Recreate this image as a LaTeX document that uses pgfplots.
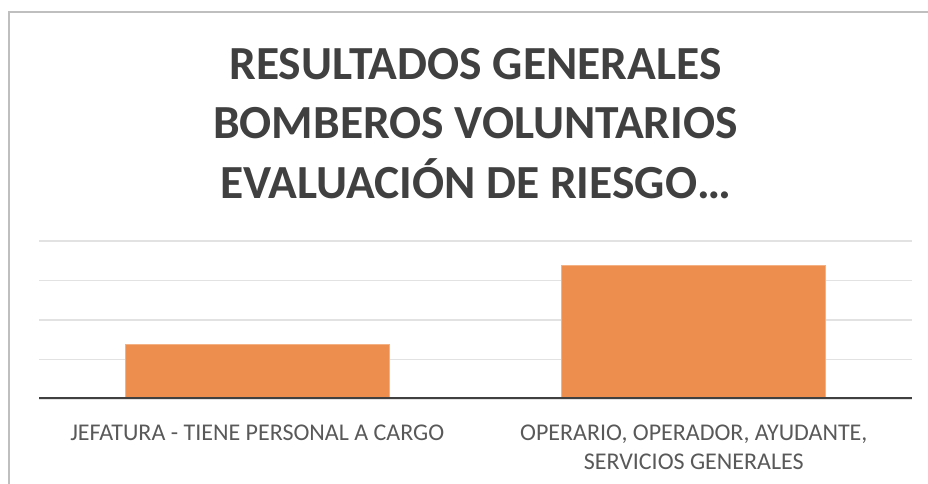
\documentclass[border=0pt]{standalone}
\usepackage{fontspec}
\setmainfont{Carlito}
\usepackage{pgfplots}
\pgfplotsset{compat=1.18}
\definecolor{barfill}{RGB}{237,141,78}
\definecolor{baredge}{RGB}{244,177,131}
\definecolor{gridc}{RGB}{226,226,226}
\definecolor{axisc}{RGB}{64,64,64}
\definecolor{titlec}{RGB}{64,64,64}
\definecolor{labelc}{RGB}{89,89,89}
\definecolor{framec}{RGB}{191,191,191}
\begin{document}
\begin{tikzpicture}
\path[use as bounding box] (-39pt,-85pt) rectangle (889pt,399pt);
\draw[framec, line width=1.5pt] (-30pt,-86pt) -- (-30pt,387pt) -- (890pt,387pt);
\node[anchor=north, align=center, font=\bfseries\fontsize{47.5}{59.5}\selectfont, text=titlec, inner sep=0pt] at (436.5pt,351pt) {RESULTADOS GENERALES\\BOMBEROS VOLUNTARIOS\\EVALUACIÓN DE RIESGO…};
\begin{axis}[
  at={(0pt,0pt)}, anchor=south west,
  scale only axis, width=873pt, height=158pt,
  xmin=-0.5, xmax=1.5, ymin=0, ymax=4,
  xtick={0,1},
  xticklabels={JEFATURA - TIENE PERSONAL A CARGO, {OPERARIO, OPERADOR, AYUDANTE,\\SERVICIOS GENERALES}},
  ytick={0,1,2,3,4}, yticklabels={},
  ymajorgrids, major grid style={gridc, line width=1.5pt},
  axis line style={draw=none}, tick style={draw=none},
  xticklabel style={font=\fontsize{24}{29}\selectfont, text=labelc, align=center, anchor=north, inner sep=0pt, yshift=-25.5pt},
]
\addplot[ybar, bar width=0.605, fill=barfill, draw=baredge, line width=1pt] coordinates {(0,1.37) (1,3.39)};
\draw[axisc, line width=4pt] (rel axis cs:0,0) -- (rel axis cs:1,0);
\end{axis}
\end{tikzpicture}
\end{document}
